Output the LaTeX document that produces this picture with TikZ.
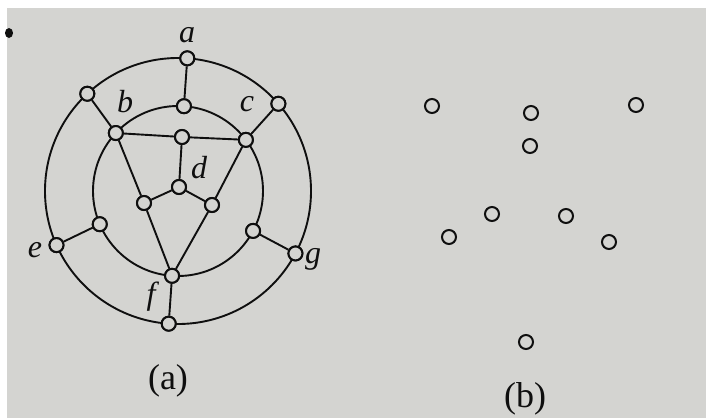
\documentclass[tikz,border=0pt]{standalone}
\usepackage{fontspec}
\setmainfont{Liberation Serif}
\usetikzlibrary{calc}
\definecolor{paper}{RGB}{212,212,209}
\definecolor{ink}{RGB}{15,15,15}
\begin{document}
\begin{tikzpicture}[x=1pt,y=-1pt,
  vtx/.style={circle,draw=ink,fill=paper,line width=2pt,inner sep=0pt,minimum size=14pt},
  edge/.style={draw=ink,line width=1.9pt},
  lbl/.style={font=\fontsize{32}{32}\selectfont\itshape,text=ink,inner sep=0pt},
  captxt/.style={font=\fontsize{36}{36}\selectfont,text=ink,inner sep=0pt}]
\useasboundingbox (0,0) rectangle (706,418);
\fill[white] (0,0) rectangle (706,418);
\fill[paper] (7,8) rectangle (706,418);
\fill[ink] (9,33) ellipse (4pt and 5pt);
\coordinate (C) at (178,191);
% circles
\draw[edge] (C) circle (133);
\draw[edge] (C) circle (85);
% outer vertices
\node[vtx] (oa) at ($(C)+(-86:133)$) {};
\node[vtx] (oul) at ($(C)+(-133:133)$) {};
\node[vtx] (our) at ($(C)+(-41:133)$) {};
\node[vtx] (oe) at ($(C)+(-204:133)$) {};
\node[vtx] (og) at ($(C)+(-332:133)$) {};
\node[vtx] (ob) at ($(C)+(-266:133)$) {};
% inner vertices
\node[vtx] (it) at ($(C)+(-86:85)$) {};
\node[vtx] (ib) at ($(C)+(-137:85)$) {};
\node[vtx] (ic) at ($(C)+(-37:85)$) {};
\node[vtx] (il) at ($(C)+(-203:85)$) {};
\node[vtx] (ir) at ($(C)+(-332:85)$) {};
\node[vtx] (if) at ($(C)+(-266:85)$) {};
% interior
\node[vtx] (mt) at (182,137) {};
\node[vtx] (d) at (179,187) {};
\node[vtx] (lm) at (144,203) {};
\node[vtx] (rm) at (212,205) {};
% edges
\draw[edge] (oa) -- (it);
\draw[edge] (oul) -- (ib);
\draw[edge] (our) -- (ic);
\draw[edge] (ib) -- (mt) -- (ic);
\draw[edge] (mt) -- (d);
\draw[edge] (d) -- (lm);
\draw[edge] (d) -- (rm);
\draw[edge] (ib) -- (lm) -- (if);
\draw[edge] (ic) -- (rm) -- (if);
\draw[edge] (oe) -- (il);
\draw[edge] (og) -- (ir);
\draw[edge] (if) -- (ob);
% redraw vertices on top of the circles
\foreach \n in {oa,oul,our,oe,og,ob,it,ib,ic,il,ir,if,mt,d,lm,rm}{
  \node[vtx] at (\n) {};
}
% labels
\node[lbl] (la) at (187,35) {a};
\node[lbl] (lb) at (125,102) {b};
\node[lbl] (lc) at (247,104) {c};
\node[lbl] (ld) at (199,168) {d};
\node[lbl] (le) at (35,250) {e};
\node[lbl] (lf) at (151,297) {f};
\node[lbl] (lg) at (313,259) {g};
\node[captxt] (capa) at (168,381) {(a)};
% (b) vertices
\node[vtx] (b1) at (432,106) {};
\node[vtx] (b2) at (531,113) {};
\node[vtx] (b3) at (636,105) {};
\node[vtx] (b4) at (530,146) {};
\node[vtx] (b5) at (492,214) {};
\node[vtx] (b6) at (566,216) {};
\node[vtx] (b7) at (449,237) {};
\node[vtx] (b8) at (609,242) {};
\node[vtx] (b9) at (526,342) {};
\node[captxt] (capb) at (525,399) {(b)};
\end{tikzpicture}
\end{document}
